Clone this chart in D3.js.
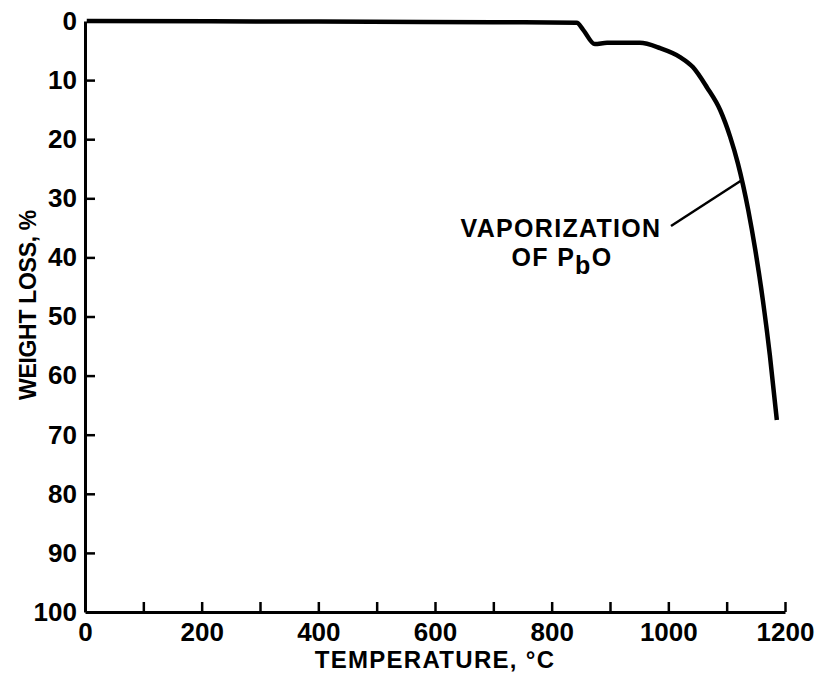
<!DOCTYPE html>
<html>
<head>
<meta charset="utf-8">
<script src="https://cdn.jsdelivr.net/npm/d3@7"></script>
<style>
    body { margin: 0; background: #fff; }
    text { font-family: "Liberation Sans", Arial, sans-serif; font-weight: bold; fill: #000; }
</style>
</head>
<body>
<div id="chart"></div>
<script>
// temperature (deg C) vs weight loss (%)
const temperature = [3, 400, 700, 843, 854, 874, 895, 951, 986, 1020, 1042, 1066, 1089, 1106, 1119, 1137, 1149, 1162, 1174, 1186];
const weightLoss  = [0, 0.1, 0.2, 0.3, 1.5, 3.9, 3.7, 3.7, 4.6, 6.1,  7.8,  11.2, 15.1, 19.6, 24.0, 32.0, 38.7, 47.2, 56.5, 67.5];

const xTicks = [0, 100, 200, 300, 400, 500, 600, 700, 800, 900, 1000, 1100, 1200];
const xLabels = [0, 200, 400, 600, 800, 1000, 1200];
const yTicks = [0, 10, 20, 30, 40, 50, 60, 70, 80, 90, 100];

const width = 815, height = 681;

const svg = d3.select("#chart").append("svg")
    .attr("width", width)
    .attr("height", height);

const x = d3.scaleLinear().domain([0, 1200]).range([85, 785]);
const y = d3.scaleLinear().domain([0, 100]).range([21, 612]);

// x axis: ticks every 100 pointing up, labels every 200
const xAxis = svg.append("g")
    .attr("transform", `translate(0, ${y(100)})`)
    .call(d3.axisBottom(x)
        .tickValues(xTicks)
        .tickSize(-10)
        .tickSizeOuter(0)
        .tickPadding(11)
        .tickFormat(d => xLabels.includes(d) ? d : ""));

xAxis.select(".domain").attr("stroke", "#000").attr("stroke-width", 3);
xAxis.selectAll(".tick line").attr("stroke", "#000").attr("stroke-width", 2.5)
    .style("display", d => d === 0 ? "none" : null);
xAxis.selectAll(".tick text").style("font-size", "26px").attr("font-family", null);

// y axis: ticks pointing right
const yAxis = svg.append("g")
    .attr("transform", `translate(${x(0)}, 0)`)
    .call(d3.axisLeft(y)
        .tickValues(yTicks)
        .tickSize(-10)
        .tickSizeOuter(0)
        .tickPadding(8));

yAxis.select(".domain").attr("stroke", "#000").attr("stroke-width", 3);
yAxis.selectAll(".tick line").attr("stroke", "#000").attr("stroke-width", 2.5)
    .style("display", d => (d === 0 || d === 100) ? "none" : null);
yAxis.selectAll(".tick text").style("font-size", "26px").attr("font-family", null);

// axis titles
svg.append("text")
    .attr("x", (x(0) + x(1200)) / 2)
    .attr("y", 668)
    .attr("text-anchor", "middle")
    .style("font-size", "24px")
    .style("letter-spacing", "1.3px")
    .text("TEMPERATURE, °C");

svg.append("text")
    .attr("transform", "translate(36, 305) rotate(-90)")
    .attr("text-anchor", "middle")
    .style("font-size", "23px")
    .style("letter-spacing", "-0.3px")
    .text("WEIGHT LOSS, %");

// curve
const pts = temperature.map((t, i) => [t, weightLoss[i]]);
const line = d3.line()
    .x(d => x(d[0]))
    .y(d => y(d[1]))
    .curve(d3.curveMonotoneX);

svg.append("path")
    .datum(pts)
    .attr("d", line)
    .attr("fill", "none")
    .attr("stroke", "#000")
    .attr("stroke-width", 4.5)
    .attr("stroke-linejoin", "round");

// annotation
svg.append("line")
    .attr("x1", 671).attr("y1", 226)
    .attr("x2", x(1125)).attr("y2", y(27))
    .attr("stroke", "#000")
    .attr("stroke-width", 2.5);

svg.append("text")
    .attr("x", 561)
    .attr("y", 237)
    .attr("text-anchor", "middle")
    .style("font-size", "25px")
    .style("letter-spacing", "1.3px")
    .text("VAPORIZATION");

const t2 = svg.append("text")
    .attr("x", 562)
    .attr("y", 266)
    .attr("text-anchor", "middle")
    .style("font-size", "25px")
    .style("letter-spacing", "1.3px");
t2.append("tspan").text("OF P");
t2.append("tspan").attr("dy", 8).text("b");
t2.append("tspan").attr("dy", -8).text("O");
</script>
</body>
</html>
